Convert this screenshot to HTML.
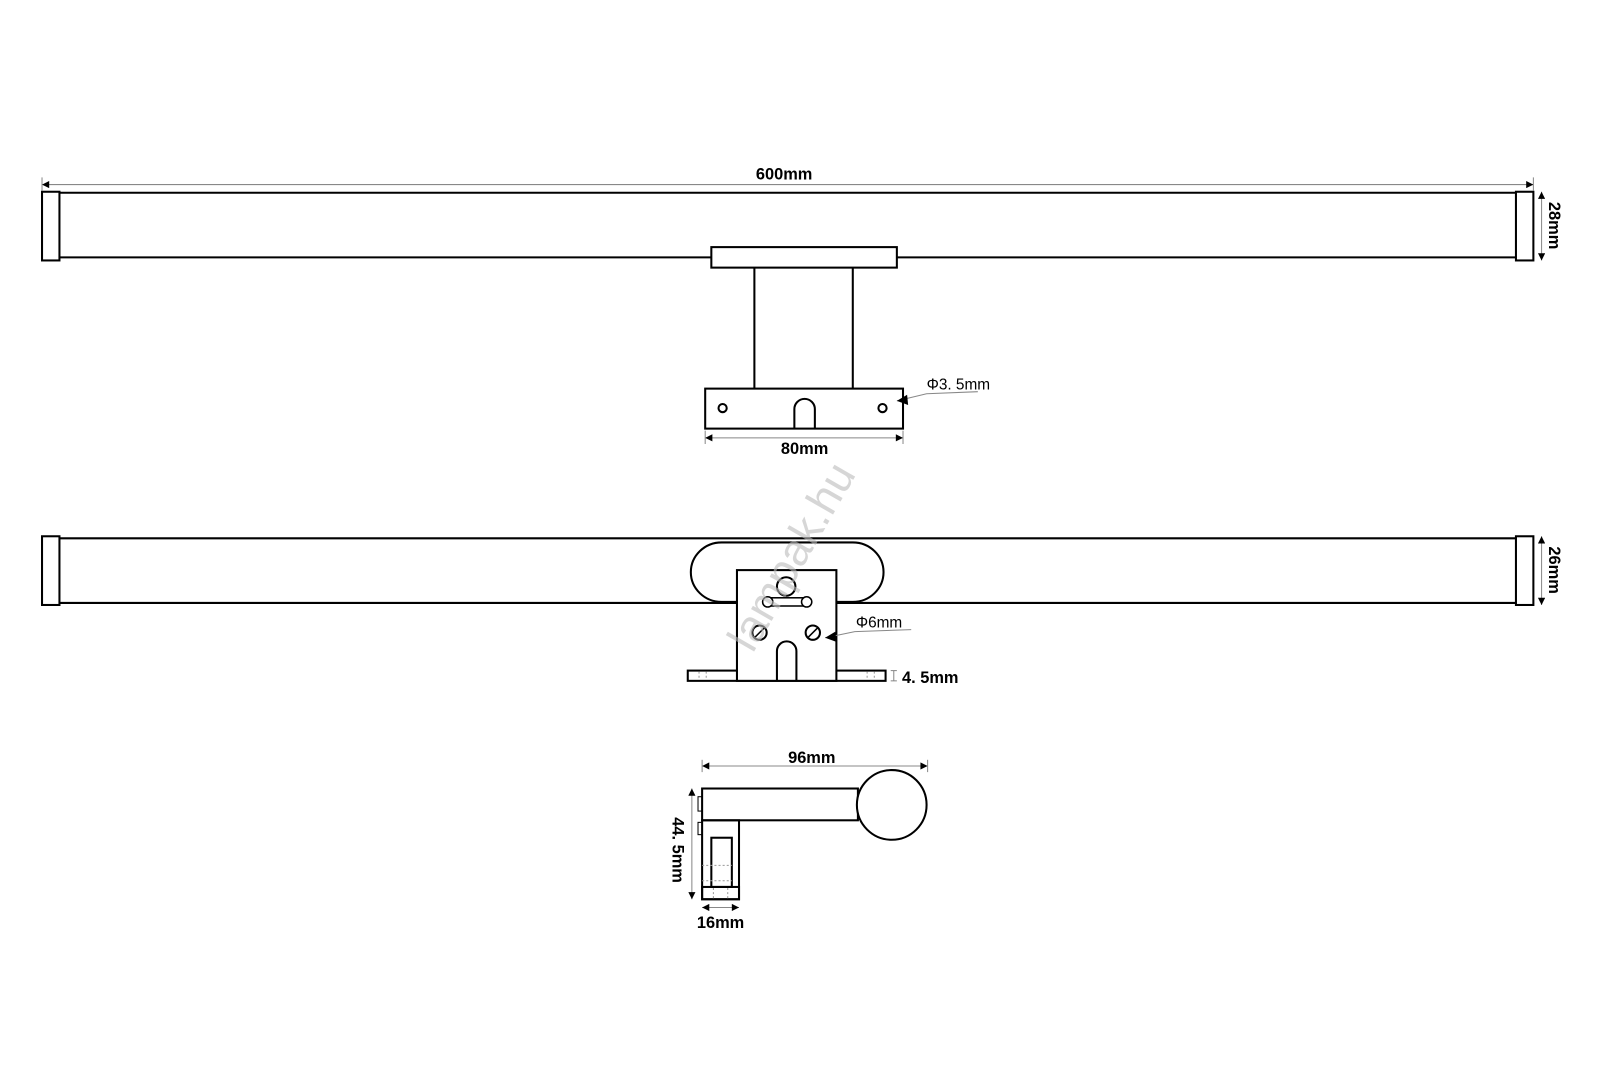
<!DOCTYPE html>
<html><head><meta charset="utf-8"><style>html,body{margin:0;padding:0;background:#fff}svg{display:block}</style></head>
<body>
<svg width="1600" height="1091" viewBox="0 0 1561 1064" preserveAspectRatio="none" xmlns="http://www.w3.org/2000/svg">
<defs>
<marker id="a" viewBox="0 0 10 10" refX="10" refY="5" markerWidth="10" markerHeight="7" orient="auto-start-reverse" markerUnits="userSpaceOnUse"><path d="M0,0 L10,5 L0,10 z" fill="#000"/></marker>
</defs>
<g fill="none" stroke="#000" stroke-width="2">
<line x1="58" y1="188" x2="1480" y2="188"/>
<line x1="58" y1="251" x2="1480" y2="251"/>
<rect x="41" y="187" width="17" height="67" fill="#fff"/>
<rect x="1479" y="187" width="17" height="67" fill="#fff"/>
<rect x="694" y="241" width="181" height="20" fill="#fff"/>
<line x1="736" y1="261" x2="736" y2="379"/>
<line x1="832" y1="261" x2="832" y2="379"/>
<rect x="688" y="379" width="193" height="39"/>
<circle cx="705" cy="398" r="4"/>
<circle cx="861" cy="398" r="4"/>
<path d="M775,418 V399 A10,10 0 0 1 795,399 V418"/>
<line x1="58" y1="525" x2="1480" y2="525"/>
<line x1="58" y1="588" x2="1480" y2="588"/>
<rect x="41" y="523" width="17" height="67" fill="#fff"/>
<rect x="1479" y="523" width="17" height="67" fill="#fff"/>
<rect x="674" y="529" width="188" height="58" rx="30" fill="#fff"/>
<rect x="671" y="654" width="193" height="10" fill="#fff"/>
<rect x="719" y="556" width="97" height="108" fill="#fff"/>
<circle cx="767" cy="572" r="9"/>
<rect x="749" y="583" width="38" height="8" stroke-width="1.5"/>
<circle cx="749" cy="587" r="5" fill="#fff" stroke-width="1.5"/>
<circle cx="787" cy="587" r="5" fill="#fff" stroke-width="1.5"/>
<circle cx="741" cy="617" r="7"/>
<circle cx="793" cy="617" r="7"/>
<line x1="736" y1="622" x2="746" y2="612" stroke-width="1.5"/>
<line x1="788" y1="622" x2="798" y2="612" stroke-width="1.5"/>
<path d="M758,664 V635 A9.5,9.5 0 0 1 777,635 V664"/>
<rect x="685" y="769" width="152" height="31"/>
<circle cx="870" cy="785" r="34" fill="#fff"/>
<rect x="685" y="800" width="36" height="77"/>
<rect x="694" y="817" width="20" height="48"/>
<rect x="685" y="865" width="36" height="12"/>
<rect x="681" y="777" width="4" height="14" stroke-width="1"/>
<rect x="681" y="802" width="4" height="12" stroke-width="1"/>
</g>
<g stroke="#999" stroke-width="1" fill="none">
<line x1="685" y1="844" x2="714" y2="844" stroke-dasharray="2,2"/>
<line x1="685" y1="859" x2="714" y2="859" stroke-dasharray="2,2"/>
<line x1="696" y1="866" x2="696" y2="876" stroke-dasharray="2,2"/>
<line x1="710" y1="866" x2="710" y2="876" stroke-dasharray="2,2"/>
<line x1="682" y1="655" x2="682" y2="663" stroke-dasharray="2,2"/>
<line x1="689" y1="655" x2="689" y2="663" stroke-dasharray="2,2"/>
<line x1="846" y1="655" x2="846" y2="663" stroke-dasharray="2,2"/>
<line x1="853" y1="655" x2="853" y2="663" stroke-dasharray="2,2"/>
</g>
<g stroke="#888" stroke-width="1" fill="none">
<line x1="41" y1="180" x2="1496" y2="180" marker-start="url(#a)" marker-end="url(#a)"/>
<line x1="41" y1="173" x2="41" y2="186"/><line x1="1496" y1="173" x2="1496" y2="186"/>
<line x1="1504" y1="187" x2="1504" y2="254" marker-start="url(#a)" marker-end="url(#a)"/>
<line x1="1504" y1="523" x2="1504" y2="590" marker-start="url(#a)" marker-end="url(#a)"/>
<line x1="688" y1="427" x2="881" y2="427" marker-start="url(#a)" marker-end="url(#a)"/>
<line x1="688" y1="420" x2="688" y2="433"/><line x1="881" y1="420" x2="881" y2="433"/>
<polyline points="875,391 904,384 954,382"/>
<polyline points="805,622 834,616 889,614"/>
<line x1="872" y1="654" x2="872" y2="664"/>
<line x1="869" y1="654" x2="875" y2="654"/><line x1="869" y1="664" x2="875" y2="664"/>
<line x1="685" y1="747" x2="905" y2="747" marker-start="url(#a)" marker-end="url(#a)"/>
<line x1="685" y1="741" x2="685" y2="753"/><line x1="905" y1="741" x2="905" y2="753"/>
<line x1="675" y1="769" x2="675" y2="877" marker-start="url(#a)" marker-end="url(#a)"/>
<line x1="685" y1="885" x2="721" y2="885" marker-start="url(#a)" marker-end="url(#a)"/>
</g>
<path d="M875,391 l10,-6 l1,10 z" fill="#000"/>
<path d="M805,622 l10,-6 l1,10 z" fill="#000"/>
<g font-family="Liberation Sans, sans-serif" font-size="16" font-weight="bold" fill="#000">
<text x="765" y="175" text-anchor="middle">600mm</text>
<text x="785" y="443" text-anchor="middle">80mm</text>
<text x="880" y="666">4. 5mm</text>
<text x="792" y="744" text-anchor="middle">96mm</text>
<text x="703" y="905" text-anchor="middle">16mm</text>
<text transform="translate(1511,220) rotate(90)" text-anchor="middle">28mm</text>
<text transform="translate(1511,556) rotate(90)" text-anchor="middle">26mm</text>
<text transform="translate(656,829) rotate(90)" text-anchor="middle">44. 5mm</text>
</g>
<g font-family="Liberation Sans, sans-serif" font-size="15" fill="#000">
<text x="904" y="380">Φ3. 5mm</text>
<text x="835" y="612">Φ6mm</text>
</g>
<text transform="translate(785,550) rotate(-60)" text-anchor="middle" font-family="Liberation Sans, sans-serif" font-size="44" fill="#bbb" fill-opacity="0.6">lampak.hu</text>
</svg>
</body></html>
